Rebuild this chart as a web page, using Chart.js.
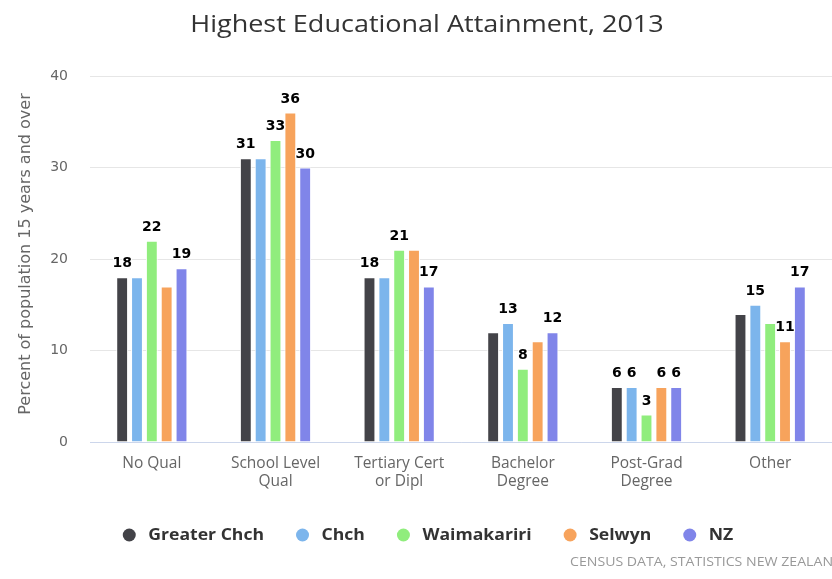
<!DOCTYPE html>
<html><head><meta charset="utf-8">
<script src="https://cdn.jsdelivr.net/npm/chart.js@4"></script>
<style>html,body{margin:0;padding:0;background:#fff;overflow:hidden}#wrap{width:832px;height:579px;position:relative}</style>
</head><body><div id="wrap"><canvas id="c" width="832" height="579"></canvas></div>
<script>
const chartTitle = "Highest Educational Attainment, 2013";
const yAxisTitle = "Percent of population 15 years and over";
const creditText = "CENSUS DATA, STATISTICS NEW ZEALAND";
const categories = [["No Qual"], ["School Level", "Qual"], ["Tertiary Cert", "or Dipl"], ["Bachelor", "Degree"], ["Post-Grad", "Degree"], ["Other"]];
const seriesNames = ["Greater Chch", "Chch", "Waimakariri", "Selwyn", "NZ"];
const greaterChch = [18, 31, 18, 12, 6, 14];
const chch = [18, 31, 18, 13, 6, 15];
const waimakariri = [22, 33, 21, 8, 3, 13];
const selwyn = [17, 36, 21, 11, 6, 11];
const nz = [19, 30, 17, 12, 6, 17];
const yTicks = [0, 10, 20, 30, 40];
const seriesColors = ["#434348", "#7cb5ec", "#90ed7d", "#f7a35c", "#8085e9"];

const seriesValues = [greaterChch, chch, waimakariri, selwyn, nz];

function wideText(ctx, text, x, y, sx, align) {
  ctx.save();
  ctx.translate(x, y);
  ctx.scale(sx, 1);
  ctx.textAlign = align;
  ctx.fillText(text, 0, 0);
  ctx.restore();
}

const textPlugin = {
  id: 'customTexts',
  afterDraw(chart) {
    const ctx = chart.ctx;
    ctx.save();
    // title
    ctx.font = '24px "Open Sans"';
    ctx.fillStyle = '#333333';
    ctx.textBaseline = 'middle';
    wideText(ctx, chartTitle, 427, 25, 1.125, 'center');
    // y axis title
    ctx.font = '16px "DejaVu Sans"';
    ctx.fillStyle = '#666666';
    ctx.save();
    ctx.translate(26, 254);
    ctx.rotate(-Math.PI / 2);
    ctx.textAlign = 'center';
    ctx.textBaseline = 'middle';
    ctx.fillText(yAxisTitle, 0, 0);
    ctx.restore();
    // legend
    ctx.font = 'bold 16px "Open Sans"';
    const sx = 1.1, r = 6.5, textOff = 19, gap = 32, cy = 535;
    const ws = chart.data.datasets.map(d => ctx.measureText(d.label).width * sx);
    const itemW = ws.map(w => r + textOff + w);
    const total = itemW.reduce((a, b) => a + b, 0) + gap * (ws.length - 1);
    let x = 428 - total / 2;
    chart.data.datasets.forEach((d, i) => {
      const cx = x + r;
      ctx.beginPath();
      ctx.arc(cx, cy, r, 0, Math.PI * 2);
      ctx.fillStyle = d.backgroundColor;
      ctx.fill();
      ctx.fillStyle = '#333333';
      ctx.textBaseline = 'middle';
      wideText(ctx, d.label, cx + textOff, cy, sx, 'left');
      x += itemW[i] + gap;
    });
    // credits
    ctx.font = '12.5px "Open Sans"';
    ctx.fillStyle = '#999999';
    ctx.textBaseline = 'middle';
    wideText(ctx, creditText, 570, 562, 1.13, 'left');
    ctx.restore();
  }
};

const labelPlugin = {
  id: 'dataLabels',
  afterDatasetsDraw(chart) {
    const ctx = chart.ctx;
    ctx.save();
    ctx.font = 'bold 14px "DejaVu Sans"';
    const items = [];
    chart.data.datasets.forEach((ds, di) => {
      const meta = chart.getDatasetMeta(di);
      meta.data.forEach((bar, i) => {
        const v = ds.data[i];
        const text = String(v);
        const w = ctx.measureText(text).width;
        const b = bar.y - 5;
        items.push({ text, v, di, x: bar.x, y: bar.y, l: bar.x - w / 2, r: bar.x + w / 2, t: b - 22, b });
      });
    });
    items.sort((a, b) => (b.v - a.v) || (a.di - b.di));
    const shown = [];
    for (const it of items) {
      const hit = shown.some(s => it.l < s.r && it.r > s.l && it.t < s.b && it.b > s.t);
      if (!hit) shown.push(it);
    }
    ctx.textAlign = 'center';
    ctx.textBaseline = 'alphabetic';
    ctx.lineJoin = 'round';
    for (const it of shown) {
      ctx.lineWidth = 2.5;
      ctx.strokeStyle = '#ffffff';
      ctx.strokeText(it.text, it.x, it.y - 10);
      ctx.fillStyle = '#000000';
      ctx.fillText(it.text, it.x, it.y - 10);
    }
    ctx.restore();
  }
};

new Chart(document.getElementById('c'), {
  type: 'bar',
  data: {
    labels: categories,
    datasets: seriesNames.map((name, i) => ({
      label: name,
      data: seriesValues[i],
      backgroundColor: seriesColors[i],
      borderColor: '#ffffff',
      borderWidth: 1,
      categoryPercentage: 0.6,
      barPercentage: 0.8
    }))
  },
  options: {
    responsive: false,
    animation: false,
    layout: { padding: { top: 76, left: 0, right: 0, bottom: 77 } },
    plugins: {
      legend: { display: false },
      title: { display: false },
      tooltip: { enabled: false }
    },
    scales: {
      x: {
        grid: { display: false, drawTicks: false },
        border: { display: true, color: '#ccd6eb', width: 1 },
        ticks: {
          font: { family: 'Open Sans', size: 15.5, lineHeight: 1.2 },
          color: '#666666',
          padding: 12,
          maxRotation: 0,
          autoSkip: false
        },
        afterFit(s) { s.height = 60; }
      },
      y: {
        min: 0,
        max: 40,
        afterBuildTicks(s) { s.ticks = yTicks.map(v => ({ value: v })); },
        grid: { color: '#e6e6e6', drawTicks: false },
        border: { display: false },
        ticks: {
          font: { family: 'DejaVu Sans', size: 14 },
          color: '#666666',
          padding: 22
        },
        title: { display: false },
        afterFit(s) { s.width = 90; }
      }
    }
  },
  plugins: [labelPlugin, textPlugin]
});
</script>
</body></html>
